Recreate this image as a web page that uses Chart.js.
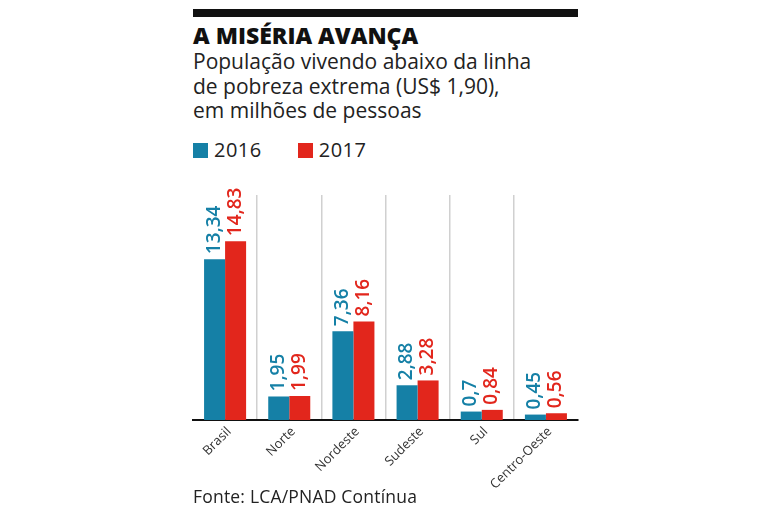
<!DOCTYPE html>
<html><head><meta charset="utf-8">
<script src="https://cdn.jsdelivr.net/npm/chart.js@4.4.1/dist/chart.umd.min.js"></script>
<style>
html,body{margin:0;padding:0;width:768px;height:512px;background:#fff;overflow:hidden;font-family:"Open Sans",sans-serif;color:#222;}
.rule{position:absolute;left:193px;top:9px;width:385px;height:8px;background:#111;}
h1{position:absolute;left:193px;top:22px;margin:0;font-size:23px;line-height:26px;font-weight:800;color:#111;white-space:nowrap;}
.sub{position:absolute;left:193px;top:49px;margin:0;font-size:21px;line-height:24.5px;font-weight:400;white-space:nowrap;color:#222;}
#legend{position:absolute;left:193px;top:140px;display:flex;font-size:20px;line-height:20px;letter-spacing:0.5px;}
.item{display:flex;align-items:center;margin-right:36px}
.sw{width:15px;height:15px;margin-right:6px}
#wrap{position:absolute;left:185px;top:170px;width:405px;height:330px;}
.src{position:absolute;left:193px;top:486px;font-size:17.5px;line-height:20px;letter-spacing:0.2px;white-space:nowrap;color:#222;}
</style></head>
<body>
<div class="rule"></div>
<h1>A MISÉRIA AVANÇA</h1>
<p class="sub">População vivendo abaixo da linha<br>de pobreza extrema (US$ 1,90),<br>em milhões de pessoas</p>
<div id="legend"></div>
<div id="wrap"><canvas id="c"></canvas></div>
<div class="src">Fonte: LCA/PNAD Contínua</div>
<script>
const categories = ["Brasil","Norte","Nordeste","Sudeste","Sul","Centro-Oeste"];
const seriesNames = ["2016","2017"];
const values2016 = [13.34,1.95,7.36,2.88,0.7,0.45];
const values2017 = [14.83,1.99,8.16,3.28,0.84,0.56];
const yMax = 18.66;

const BLUE = '#1580a6', RED = '#e2261c';

const valueLabelPlugin = {
  id:'valueLabels',
  afterDatasetsDraw(chart){
    const ctx = chart.ctx;
    chart.data.datasets.forEach((ds,i)=>{
      const meta = chart.getDatasetMeta(i);
      meta.data.forEach((bar,j)=>{
        const txt = String(ds.data[j]).replace('.',',');
        ctx.save();
        ctx.translate(bar.x + 5, bar.y - 5);
        ctx.rotate(-Math.PI/2);
        ctx.font = '600 19px "Open Sans"';
        ctx.fillStyle = ds.backgroundColor;
        ctx.textAlign = 'left';
        ctx.textBaseline = 'alphabetic';
        ctx.fillText(txt,0,0);
        ctx.restore();
      });
    });
  }
};

const chart = new Chart(document.getElementById('c'), {
  type:'bar',
  data:{
    labels: categories,
    datasets:[
      {label:seriesNames[0], data:values2016, backgroundColor:BLUE, barPercentage:1, categoryPercentage:0.655},
      {label:seriesNames[1], data:values2017, backgroundColor:RED, barPercentage:1, categoryPercentage:0.655}
    ]
  },
  options:{
    responsive:true, maintainAspectRatio:false, animation:false,
    layout:{padding:{left:8,right:12,top:25,bottom:0}},
    plugins:{legend:{display:false}, tooltip:{enabled:false}},
    scales:{
      y:{display:false,min:0,max:yMax},
      x:{
        offset:true,
        grid:{offset:true,drawTicks:false,lineWidth:1.5,
          color:(c)=> (c.type!=='tick' || c.index===0) ? 'rgba(0,0,0,0)' : '#d0d0d0'},
        border:{display:true,color:'#111',width:2},
        ticks:{minRotation:45,maxRotation:45,color:'#333',font:{family:'Open Sans',size:13},padding:4,labelOffset:4},
        afterFit(s){ s.height = 80; s.paddingLeft = 0; s.paddingRight = 0; }
      }
    }
  },
  plugins:[valueLabelPlugin]
});

const lg = document.getElementById('legend');
chart.data.datasets.forEach(ds=>{
  const it = document.createElement('div'); it.className='item';
  const sw = document.createElement('span'); sw.className='sw'; sw.style.background = ds.backgroundColor;
  const tx = document.createElement('span'); tx.textContent = ds.label;
  it.appendChild(sw); it.appendChild(tx); lg.appendChild(it);
});
</script>
</body></html>
